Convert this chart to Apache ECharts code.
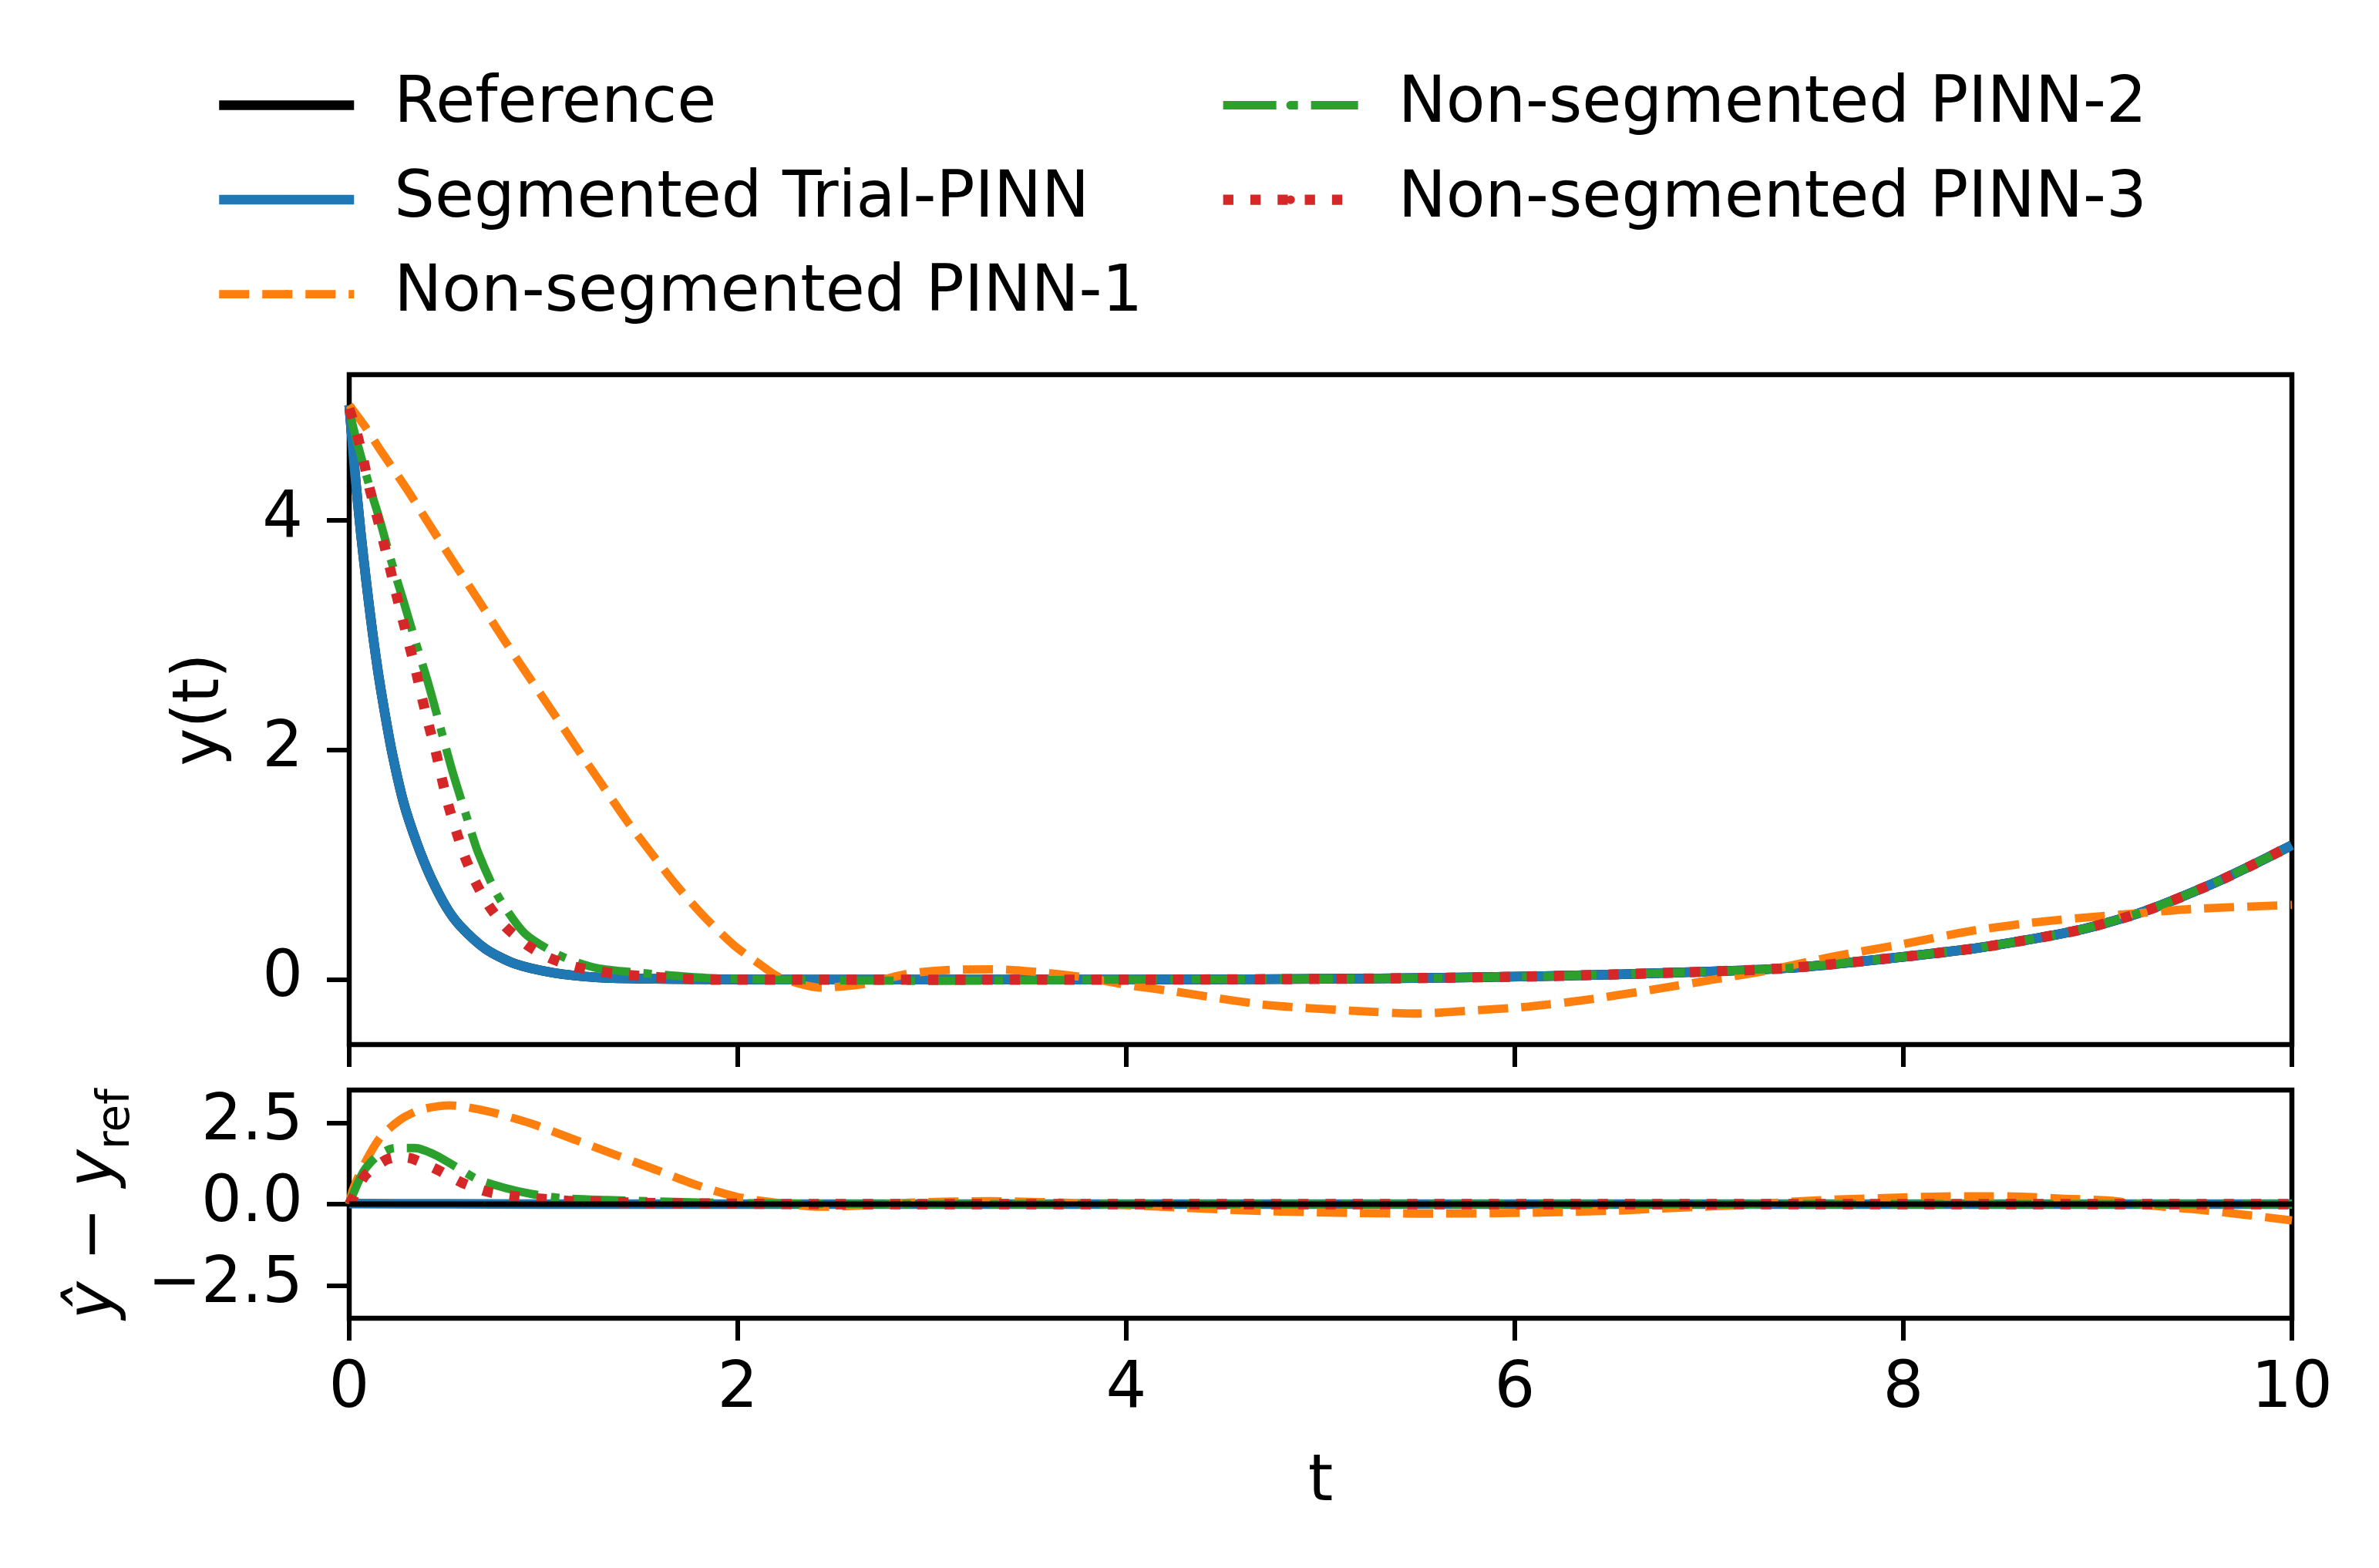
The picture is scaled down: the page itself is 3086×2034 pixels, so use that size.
<!DOCTYPE html>
<html>
<head>
<meta charset="utf-8">
<script src="https://cdn.jsdelivr.net/npm/echarts@6/dist/echarts.min.js"></script>
<style>
  html, body { margin: 0; padding: 0; background: #fff; }
  #box { width: 3086px; height: 2034px; }
</style>
</head>
<body>
<div id="box"></div>
<script>
// values
var tRef = [0, 0.03, 0.06, 0.09, 0.12, 0.15, 0.18, 0.22, 0.28, 0.35, 0.42, 0.5, 0.57, 0.7, 0.85, 1.05, 1.27, 1.5, 1.8, 2.2, 3.0, 4.0, 5.3, 6.15, 6.9, 7.4, 7.9, 8.4, 8.9, 9.25, 9.6, 9.8, 10];
var yRef = [5.0, 4.4, 3.88, 3.43, 3.02, 2.66, 2.35, 1.98, 1.54, 1.18, 0.89, 0.63, 0.47, 0.27, 0.14, 0.06, 0.02, 0.008, 0.003, 0.0, 0.0, 0.0, 0.01, 0.03, 0.065, 0.1, 0.18, 0.28, 0.43, 0.6, 0.84, 1.0, 1.17];

var tSeg = [0, 0.03, 0.06, 0.09, 0.12, 0.15, 0.18, 0.22, 0.28, 0.35, 0.42, 0.5, 0.57, 0.7, 0.85, 1.05, 1.27, 1.5, 1.8, 2.2, 3.0, 4.0, 5.3, 6.15, 6.9, 7.4, 7.9, 8.4, 8.9, 9.25, 9.6, 9.8, 10];
var ySeg = [5.0, 4.4, 3.88, 3.43, 3.02, 2.66, 2.35, 1.98, 1.54, 1.18, 0.89, 0.63, 0.47, 0.27, 0.14, 0.06, 0.02, 0.008, 0.003, 0.0, 0.0, 0.0, 0.01, 0.03, 0.065, 0.1, 0.18, 0.28, 0.43, 0.6, 0.84, 1.0, 1.17];

var tP1 = [0, 0.083, 0.16, 0.296, 0.42, 0.55, 0.67, 0.8, 0.927, 1.055, 1.174, 1.3, 1.43, 1.56, 1.685, 1.826, 1.98, 2.125, 2.215, 2.43, 2.65, 2.88, 3.11, 3.33, 3.56, 3.79, 4.0, 4.25, 4.7, 5.16, 5.5, 5.77, 6.07, 6.37, 6.7, 7.02, 7.3, 7.65, 8.0, 8.37, 8.74, 9.12, 9.49, 10];
var yP1 = [5.0, 4.81, 4.61, 4.27, 3.94, 3.6, 3.29, 2.95, 2.63, 2.31, 2.01, 1.70, 1.38, 1.09, 0.82, 0.55, 0.3, 0.12, 0.02, -0.07, -0.037, 0.052, 0.086, 0.09, 0.064, 0.019, -0.045, -0.104, -0.216, -0.27, -0.295, -0.27, -0.235, -0.175, -0.09, 0.0, 0.08, 0.205, 0.31, 0.43, 0.51, 0.566, 0.615, 0.65];

var tP2 = [0, 0.04, 0.11, 0.154, 0.21, 0.28, 0.345, 0.41, 0.47, 0.53, 0.6, 0.665, 0.765, 0.905, 1.09, 1.27, 1.56, 1.84, 2.2, 3.0, 4.0, 5.3, 6.15, 6.9, 7.4, 7.9, 8.4, 8.9, 9.25, 9.6, 9.8, 10];
var yP2 = [4.95, 4.68, 4.26, 4.02, 3.68, 3.29, 2.92, 2.56, 2.19, 1.82, 1.44, 1.1, 0.73, 0.40, 0.206, 0.103, 0.05, 0.015, 0.0, -0.01, 0.0, 0.01, 0.03, 0.065, 0.1, 0.18, 0.28, 0.43, 0.6, 0.84, 1.0, 1.17];

var tP3 = [0, 0.04, 0.076, 0.104, 0.14, 0.175, 0.21, 0.24, 0.276, 0.311, 0.347, 0.375, 0.41, 0.446, 0.474, 0.51, 0.553, 0.595, 0.65, 0.72, 0.807, 0.92, 1.03, 1.16, 1.3, 1.44, 1.6, 1.88, 2.2, 3.0, 4.0, 5.3, 6.15, 6.9, 7.4, 7.9, 8.4, 8.9, 9.25, 9.6, 9.8, 10];
var yP3 = [4.97, 4.75, 4.5, 4.28, 4.05, 3.82, 3.58, 3.37, 3.13, 2.9, 2.66, 2.45, 2.21, 1.98, 1.77, 1.52, 1.28, 1.07, 0.85, 0.64, 0.455, 0.296, 0.19, 0.113, 0.068, 0.04, 0.02, 0.0, 0.0, 0.0, 0.0, 0.01, 0.03, 0.065, 0.1, 0.18, 0.28, 0.43, 0.6, 0.84, 1.0, 1.17];

// error panel
var tErrSeg = [0, 0.5, 1, 2, 5, 10];
var eSeg = [0.02, 0.01, 0.0, 0.0, 0.0, 0.0];
var tErrP1 = [0, 0.02, 0.083, 0.163, 0.27, 0.375, 0.517, 0.712, 0.942, 1.155, 1.367, 1.58, 1.79, 1.99, 2.18, 2.43, 2.65, 2.9, 3.3, 3.8, 4.25, 4.7, 5.16, 5.5, 5.88, 6.1, 6.34, 6.56, 6.78, 7.01, 7.25, 7.46, 7.7, 7.93, 8.15, 8.38, 8.61, 8.83, 9.06, 9.29, 9.51, 9.75, 10];
var eP1 = [0, 0.46, 1.29, 2.07, 2.62, 2.91, 3.03, 2.85, 2.46, 1.99, 1.52, 1.05, 0.58, 0.23, 0.055, -0.08, -0.04, 0.05, 0.09, 0.02, -0.1, -0.21, -0.27, -0.29, -0.28, -0.26, -0.23, -0.19, -0.125, -0.07, 0.0, 0.086, 0.15, 0.19, 0.23, 0.24, 0.23, 0.165, 0.11, -0.05, -0.165, -0.32, -0.5];
var tErrP2 = [0, 0.02, 0.074, 0.145, 0.234, 0.34, 0.446, 0.553, 0.66, 0.8, 0.94, 1.1, 1.33, 1.6, 2.0, 3.0, 10];
var eP2 = [0, 0.31, 1.01, 1.48, 1.72, 1.72, 1.50, 1.13, 0.76, 0.50, 0.31, 0.18, 0.125, 0.08, 0.03, 0.0, 0.0];
var tErrP3 = [0, 0.02, 0.083, 0.19, 0.26, 0.322, 0.455, 0.58, 0.712, 0.854, 0.995, 1.13, 1.49, 1.8, 2.5, 10];
var eP3 = [0, 0.2, 0.89, 1.36, 1.45, 1.40, 1.05, 0.66, 0.38, 0.24, 0.16, 0.1, 0.04, 0.02, 0.0, 0.0];
var tErrRef = [0, 10];
var eRef = [0, 0];

var xTicks = [0, 2, 4, 6, 8, 10];
var yTicksTop = [0, 2, 4];
var yTicksBottom = [-2.5, 0, 2.5];

var FONT = "DejaVu Sans";
var FS = 83;

function pairs(t, y) {
  var out = [];
  for (var i = 0; i < t.length; i++) out.push([t[i], y[i]]);
  return out;
}

function lineSeries(name, xi, data, color, width, dash, z) {
  return {
    name: name,
    type: "line",
    xAxisIndex: xi,
    yAxisIndex: xi,
    data: data,
    symbol: "none",
    smooth: 0.25,
    z: z || 2,
    lineStyle: { color: color, width: width, type: dash || "solid", cap: "butt", join: "round" },
    itemStyle: { color: color },
  };
}

var tickStyle = { show: true, length: 29, lineStyle: { color: "#000", width: 6 } };
var labelStyle = { color: "#000", fontSize: FS, fontFamily: FONT };

var chart = echarts.init(document.getElementById("box"));

var legendText = { color: "#000", fontSize: FS, fontFamily: FONT, lineHeight: 83, padding: [0, 0, 0, 47] };

var option = {
  backgroundColor: "#fff",
  animation: false,
  legend: [
    {
      left: 273, top: 90, orient: "vertical",
      itemWidth: 175, itemHeight: 14, itemGap: 39.6,
      selectedMode: false,
      textStyle: legendText,
      data: [
        { name: "Reference", lineStyle: { width: 12.5 } },
        { name: "Segmented Trial-PINN", lineStyle: { width: 12.5 } },
        { name: "Non-segmented PINN-1", lineStyle: { width: 10.8 } },
      ],
    },
    {
      left: 1575, top: 90, orient: "vertical",
      itemWidth: 175, itemHeight: 14, itemGap: 39.6,
      selectedMode: false,
      textStyle: legendText,
      data: [
        { name: "Non-segmented PINN-2", lineStyle: { width: 10.8 } },
        { name: "Non-segmented PINN-3", lineStyle: { width: 13.3 } },
      ],
    },
  ],
  grid: [
    { left: 453, top: 486, width: 2520, height: 869, show: true, borderColor: "#000", borderWidth: 6.5, backgroundColor: "#fff" },
    { left: 453, top: 1414, width: 2520, height: 296, show: true, borderColor: "#000", borderWidth: 6.5, backgroundColor: "#fff" },
  ],
  xAxis: [
    {
      gridIndex: 0, type: "value", min: 0, max: 10, interval: 2,
      axisLine: { show: false, onZero: false },
      axisTick: tickStyle,
      axisLabel: { show: false },
      splitLine: { show: false },
    },
    {
      gridIndex: 1, type: "value", min: 0, max: 10, interval: 2,
      axisLine: { show: false, onZero: false },
      axisTick: tickStyle,
      axisLabel: Object.assign({ margin: 52 }, labelStyle),
      splitLine: { show: false },
      name: "t", nameLocation: "middle", nameGap: 173,
      nameTextStyle: { color: "#000", fontSize: FS, fontFamily: FONT, lineHeight: 83 },
    },
  ],
  yAxis: [
    {
      gridIndex: 0, type: "value", min: -0.565, max: 5.265,
      axisLine: { show: false, onZero: false },
      axisTick: Object.assign({ customValues: yTicksTop }, tickStyle),
      axisLabel: Object.assign({ customValues: yTicksTop, margin: 60 }, labelStyle),
      splitLine: { show: false },
      name: "y(t)", nameLocation: "middle", nameRotate: 90, nameGap: 150,
      nameTextStyle: { color: "#000", fontSize: FS, fontFamily: FONT, lineHeight: 83 },
    },
    {
      gridIndex: 1, type: "value", min: -3.5, max: 3.5,
      axisLine: { show: false, onZero: false },
      axisTick: Object.assign({ customValues: yTicksBottom }, tickStyle),
      axisLabel: Object.assign({
        customValues: yTicksBottom, margin: 60,
        formatter: function (v) {
          return v < 0 ? "\u2212" + Math.abs(v).toFixed(1) : v.toFixed(1);
        },
      }, labelStyle),
      splitLine: { show: false },
      name: "{i|\u0177}{m| \u2212 }{i|y}{s|ref}", nameLocation: "middle", nameRotate: 90, nameGap: 285,
      nameTextStyle: {
        color: "#000", fontSize: FS, fontFamily: FONT,
        rich: {
          i: { fontSize: FS, fontFamily: FONT, fontStyle: "italic", lineHeight: 83, verticalAlign: "top", color: "#000" },
          m: { fontSize: FS, fontFamily: FONT, lineHeight: 83, verticalAlign: "top", color: "#000" },
          s: { fontSize: 58, fontFamily: FONT, lineHeight: 58, verticalAlign: "top", padding: [40, 0, 0, 0], color: "#000" },
        },
      },
    },
  ],
  series: [
    lineSeries("Reference", 0, pairs(tRef, yRef), "#000000", 12.5),
    lineSeries("Segmented Trial-PINN", 0, pairs(tSeg, ySeg), "#1f77b4", 12.5),
    lineSeries("Non-segmented PINN-1", 0, pairs(tP1, yP1), "#ff7f0e", 10.8, [39, 17]),
    lineSeries("Non-segmented PINN-2", 0, pairs(tP2, yP2), "#2ca02c", 10.8, [69, 17, 11, 17]),
    lineSeries("Non-segmented PINN-3", 0, pairs(tP3, yP3), "#d62728", 13.3, [13.3, 22]),

    lineSeries("err Segmented", 1, pairs(tErrSeg, eSeg), "#1f77b4", 12.5),
    lineSeries("err PINN-1", 1, pairs(tErrP1, eP1), "#ff7f0e", 10.8, [39, 17]),
    lineSeries("err PINN-2", 1, pairs(tErrP2, eP2), "#2ca02c", 10.8, [69, 17, 11, 17]),
    lineSeries("err PINN-3", 1, pairs(tErrP3, eP3), "#d62728", 13.3, [13.3, 22]),
    lineSeries("err Reference", 1, pairs(tErrRef, eRef), "#000000", 7, "solid", 3),
  ],
};

chart.setOption(option);
</script>
</body>
</html>
